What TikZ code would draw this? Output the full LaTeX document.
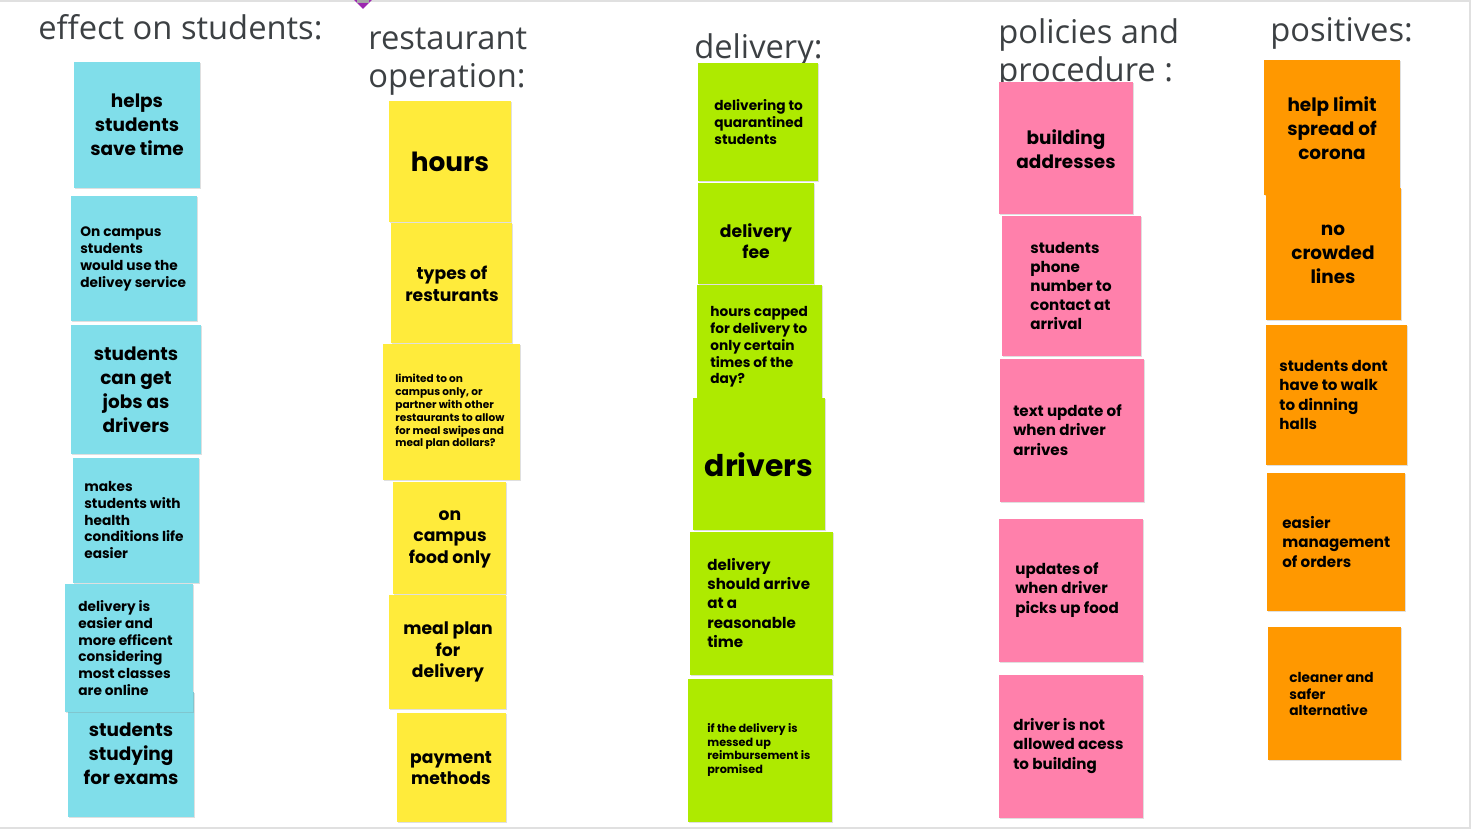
\documentclass[tikz,border=0pt]{standalone}
\usepackage{fontspec}
\setmainfont{Open Sans}
\newfontfamily\notefont{Poppins}
\usetikzlibrary{shadows}

\definecolor{notecyan}{HTML}{80DEEA}
\definecolor{noteyellow}{HTML}{FFEB3B}
\definecolor{notegreen}{HTML}{AEEA00}
\definecolor{notepink}{HTML}{FF80AB}
\definecolor{noteorange}{HTML}{FF9800}
\definecolor{headgray}{HTML}{3C4043}
\definecolor{framegray}{HTML}{E0E0E0}
\definecolor{pinpurple}{HTML}{9C27B0}

\tikzset{
	note/.style={fill=#1, drop shadow={shadow xshift=0.4pt, shadow yshift=-0.7pt, opacity=0.25}},
	head/.style={anchor=west, align=left, inner sep=0pt, text=headgray, font=\fontsize{18.6}{21.8}\selectfont},
	ctr/.style={align=center, inner sep=0pt},
	lft/.style={align=left, anchor=west, inner sep=0pt},
	hugetxt/.style={font=\notefont\bfseries\fontsize{17}{20}\selectfont},
	bigtxt/.style={font=\notefont\bfseries\fontsize{15}{18}\selectfont},
	largetxt/.style={font=\notefont\bfseries\fontsize{10.5}{13.6}\selectfont},
	medtxt/.style={font=\notefont\bfseries\fontsize{9.8}{12.2}\selectfont},
	midtxt/.style={font=\notefont\bfseries\fontsize{8.6}{10.9}\selectfont},
	smalltxt/.style={font=\notefont\bfseries\fontsize{7.8}{9.6}\selectfont},
	tinytxt/.style={font=\notefont\bfseries\fontsize{6}{7.3}\selectfont},
}

\begin{document}
\begin{tikzpicture}[x=0.02cm, y=-0.02cm]
	\useasboundingbox (0,0) rectangle (1474,830);
	
	% Rahmen und Pin
	\draw[framegray, thick] (0,1) -- (1470,1) -- (1470,828) -- (0,828);
	\fill[pinpurple] (354,0) -- (372,0) -- (363,9) -- cycle;
	\fill[gray!70] (357,0) rectangle (369,3);
	
	% Ueberschriften
	\node[head] (hstudents) at (38,27) {effect on students:};
	\node[head] (hrestaurant) at (368,62) {restaurant\\operation:};
	\node[head] (hdelivery) at (694,50) {delivery:};
	\node[head] (hpolicies) at (998,54) {policies and\\procedure :};
	\node[head] (hpositives) at (1270,33) {positives:};
	
	% Spalte 1: effect on students
	\fill[note=notecyan] (74,62) rectangle (200,188);
	\node[ctr, largetxt] (savetime) at (137,125) {helps\\students\\save time};
	\fill[note=notecyan] (71,196) rectangle (197,321);
	\node[lft, smalltxt] (useservice) at (80,259) {On campus\\students\\would use the\\delivey service};
	\fill[note=notecyan] (71,325) rectangle (201,454);
	\node[ctr, largetxt] (jobs) at (136,390) {students\\can get\\jobs as\\drivers};
	\fill[note=notecyan] (73,458) rectangle (199,583);
	\node[lft, smalltxt] (health) at (84,520) {makes\\students with\\health\\conditions life\\easier};
	\fill[note=notecyan] (68,692) rectangle (194,817);
	\node[ctr, largetxt] (exams) at (131,754) {students\\studying\\for exams};
	\fill[note=notecyan] (65,584) rectangle (193,712);
	\node[lft, smalltxt] (online) at (78,648) {delivery is\\easier and\\more efficent\\considering\\most classes\\are online};
	
	% Spalte 2: restaurant operation
	\fill[note=noteyellow] (389,101) rectangle (511,222);
	\node[ctr, bigtxt] (hours) at (450,162) {hours};
	\fill[note=noteyellow] (391,223) rectangle (512,343);
	\node[ctr, medtxt] (types) at (452,284) {types of\\resturants};
	\fill[note=noteyellow] (383,344) rectangle (520,480);
	\node[lft, tinytxt] (limited) at (395,412) {limited to on\\campus only, or\\partner with other\\restaurants to allow\\for meal swipes and\\meal plan dollars?};
	\fill[note=noteyellow] (393,482) rectangle (506,594);
	\node[ctr, medtxt] (oncampus) at (450,539) {on\\campus\\food only};
	\fill[note=noteyellow] (389,595) rectangle (506,709);
	\node[ctr, medtxt] (mealplan) at (448,652) {meal plan\\for\\delivery};
	\fill[note=noteyellow] (397,713) rectangle (506,822);
	\node[ctr, medtxt] (payment) at (451,768) {payment\\methods};
	
	% Spalte 3: delivery
	\fill[note=notegreen] (698,63) rectangle (818,181);
	\node[lft, smalltxt] (quarantine) at (714,122) {delivering to\\quarantined\\students};
	\fill[note=notegreen] (698,183) rectangle (814,284);
	\node[ctr, medtxt] (fee) at (756,241) {delivery\\fee};
	\fill[note=notegreen] (697,285) rectangle (822,400);
	\node[lft, smalltxt] (capped) at (710,347) {hours capped\\for delivery to\\only certain\\times of the\\day?};
	\fill[note=notegreen] (693,398) rectangle (825,530);
	\node[ctr, hugetxt] (drivers) at (759,465) {drivers};
	\fill[note=notegreen] (690,532) rectangle (833,675);
	\node[lft, midtxt] (arrive) at (707,603) {delivery\\should arrive\\at a\\reasonable\\time};
	\fill[note=notegreen] (688,679) rectangle (832,822);
	\node[lft, font=\notefont\bfseries\fontsize{6.4}{7.8}\selectfont] (refund) at (707,750) {if the delivery is\\messed up\\reimbursement is\\promised};
	
	% Spalte 4: policies and procedure
	\fill[note=notepink] (999,82) rectangle (1133,214);
	\node[ctr, largetxt] (addresses) at (1066,149) {building\\addresses};
	\fill[note=notepink] (1002,216) rectangle (1141,356);
	\node[lft, midtxt] (phone) at (1030,286) {students\\phone\\number to\\contact at\\arrival};
	\fill[note=notepink] (1000,359) rectangle (1144,502);
	\node[lft, midtxt] (textupdate) at (1013,430) {text update of\\when driver\\arrives};
	\fill[note=notepink] (999,519) rectangle (1143,662);
	\node[lft, midtxt] (pickup) at (1015,590) {updates of\\when driver\\picks up food};
	\fill[note=notepink] (999,675) rectangle (1143,818);
	\node[lft, midtxt] (noaccess) at (1013,746) {driver is not\\allowed acess\\to building};
	
	% Spalte 5: positives
	\fill[note=noteorange] (1264,60) rectangle (1400,195);
	\node[ctr, largetxt] (corona) at (1332,128) {help limit\\spread of\\corona};
	\fill[note=noteorange] (1266,188) rectangle (1401,320);
	\node[ctr, largetxt] (nolines) at (1333,254) {no\\crowded\\lines};
	\fill[note=noteorange] (1266,325) rectangle (1407,465);
	\node[lft, midtxt] (walk) at (1279,395) {students dont\\have to walk\\to dinning\\halls};
	\fill[note=noteorange] (1267,473) rectangle (1405,611);
	\node[lft, midtxt] (orders) at (1282,542) {easier\\management\\of orders};
	\fill[note=noteorange] (1268,627) rectangle (1401,760);
	\node[lft, smalltxt] (safer) at (1289,694) {cleaner and\\safer\\alternative};
\end{tikzpicture}
\end{document}
